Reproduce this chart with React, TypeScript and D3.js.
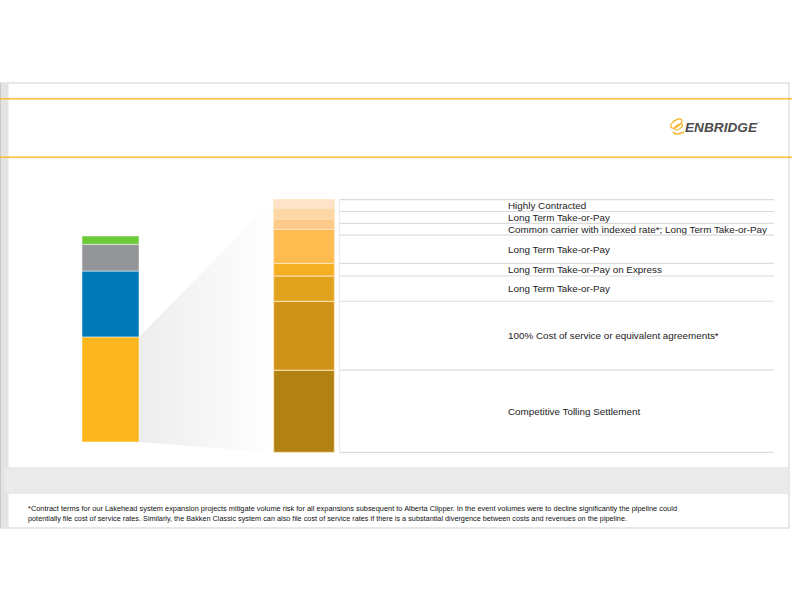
import React from "react";
import * as d3 from "d3";

// Left stacked bar (bottom to top), percent of total
const totalSegments = ["Liquids", "Gas", "Other", "Renewables"];
const totalValues = [51, 32, 13, 4];
const totalColors = ["#FDB71E", "#007AB8", "#939598", "#6CCB39"];

// Right breakdown bar (bottom to top), percent of liquids
const breakdownLabels = [
  "Competitive Tolling Settlement",
  "100% Cost of service or equivalent agreements*",
  "Long Term Take-or-Pay",
  "Long Term Take-or-Pay on Express",
  "Long Term Take-or-Pay",
  "Common carrier with indexed rate*; Long Term Take-or-Pay",
  "Long Term Take-or-Pay",
  "Highly Contracted",
];
const breakdownValues = [32.5, 27.3, 10, 5, 13.5, 4.1, 4.2, 3.4];
const breakdownColors = [
  "#B38012",
  "#CE9318",
  "#E0A11C",
  "#F5AF22",
  "#FDBB50",
  "#FFC98A",
  "#FFD7A4",
  "#FFE3C9",
];

const footnoteLines = [
  "*Contract terms for our Lakehead system expansion projects mitigate volume risk for all expansions subsequent to Alberta Clipper. In the event volumes were to decline significantly the pipeline could",
  "potentially file cost of service rates. Similarly, the Bakken Classic system can also file cost of service rates if there is a substantial divergence between costs and revenues on the pipeline.",
];

function stack(values: number[]) {
  let acc = 0;
  return values.map((v) => {
    const s = { y0: acc, y1: acc + v };
    acc += v;
    return s;
  });
}

export default function App() {
  const W = 792,
    H = 612;
  const font = "'Liberation Sans', Arial, sans-serif";

  const yL = d3.scaleLinear().domain([0, 100]).range([442, 236]);
  const yR = d3.scaleLinear().domain([0, 100]).range([452.3, 199.7]);
  const xL = { x0: 82, x1: 139 };
  const xR = { x0: 273.7, x1: 334.3 };

  const lStack = stack(totalValues);
  const rStack = stack(breakdownValues);

  // label rows, computed from top down with a minimum row height
  const minH = 11.8;
  const rowsTopDown: { top: number; bottom: number; label: string }[] = [];
  let prevBottom = -Infinity;
  for (let i = rStack.length - 1; i >= 0; i--) {
    const segTop = yR(rStack[i].y1);
    const segBottom = yR(rStack[i].y0);
    const top = Math.max(prevBottom, segTop);
    const bottom = Math.max(segBottom, top + minH);
    rowsTopDown.push({ top, bottom, label: breakdownLabels[i] });
    prevBottom = bottom;
  }

  const liquidsTop = yL(lStack[0].y1);
  const liquidsBottom = yL(lStack[0].y0);
  const connector = [
    [xL.x1, liquidsTop],
    [xR.x0, yR(100)],
    [xR.x0, yR(0)],
    [xL.x1, liquidsBottom],
  ];
  const line = d3.line();

  return (
    <svg
      width={W}
      height={H}
      style={{ position: "absolute", left: 0, top: 0, background: "#fff" }}
      fontFamily={font}
    >
      <defs>
        <linearGradient id="conn" x1="0" x2="1" y1="0" y2="0">
          <stop offset="0" stopColor="#EDEDED" />
          <stop offset="1" stopColor="#FFFFFF" />
        </linearGradient>
      </defs>
      {/* slide frame */}
      <rect x={0} y={83} width={789} height={445} fill="#fff" stroke="#CFCFCF" strokeWidth={1} />
      <rect x={0.5} y={83.5} width={8} height={444} fill="#E4E4E4" />
      <line x1={0.5} x2={0.5} y1={83} y2={528} stroke="#C8C8C8" />
      <rect x={5} y={467} width={784} height={27} fill="#E9EAE9" />
      <line x1={0} x2={792} y1={98.8} y2={98.8} stroke="#FDBB30" strokeWidth={1.5} />
      <line x1={0} x2={792} y1={157.3} y2={157.3} stroke="#FDBB30" strokeWidth={1.5} />

      {/* logo */}
      <g transform="translate(678,126)">
        <ellipse cx={0} cy={-3} rx={6.5} ry={3.2} fill="none" stroke="#F7B52A" strokeWidth={1.4} transform="rotate(-35)" />
        <ellipse cx={0} cy={1} rx={4.5} ry={2.2} fill="none" stroke="#F7B52A" strokeWidth={1.2} transform="rotate(-35)" />
        <path d="M -5 6 Q -2 10 6 6" fill="none" stroke="#F7B52A" strokeWidth={1.6} />
      </g>
      <text
        x={685}
        y={131.5}
        fontSize={13}
        fontWeight="bold"
        fontStyle="italic"
        fill="#4D4D4F"
        textLength={72}
        lengthAdjust="spacingAndGlyphs"
      >
        ENBRIDGE
      </text>
      <text x={757} y={124} fontSize={3} fill="#777">™</text>

      {/* connector shading */}
      <path d={line(connector as [number, number][]) + "Z"} fill="url(#conn)" />

      {/* left stacked bar */}
      {lStack.map((s, i) => (
        <rect
          key={"l" + i}
          x={xL.x0}
          width={xL.x1 - xL.x0}
          y={yL(s.y1)}
          height={yL(s.y0) - yL(s.y1)}
          fill={totalColors[i]}
          stroke="#FFFFFF"
          strokeOpacity={0.6}
          strokeWidth={0.8}
        >
          <title>{totalSegments[i]}</title>
        </rect>
      ))}

      {/* label rows */}
      <line x1={339.5} x2={339.5} y1={rowsTopDown[0].top} y2={rowsTopDown[rowsTopDown.length - 1].bottom} stroke="#E4F0F0" />
      {rowsTopDown.map((r, i) => (
        <g key={"r" + i}>
          <line x1={339.5} x2={774} y1={r.top} y2={r.top} stroke="#DCDCDC" strokeWidth={1.2} />
          <text x={508} y={(r.top + r.bottom) / 2} dy="0.35em" fontSize={9.85} fill="#222">
            {r.label}
          </text>
        </g>
      ))}
      <line
        x1={339.5}
        x2={774}
        y1={rowsTopDown[rowsTopDown.length - 1].bottom}
        y2={rowsTopDown[rowsTopDown.length - 1].bottom}
        stroke="#DCDCDC"
        strokeWidth={1.2}
      />

      {/* right breakdown bar */}
      {rStack.map((s, i) => (
        <rect
          key={"r" + i}
          x={xR.x0}
          width={xR.x1 - xR.x0}
          y={yR(s.y1)}
          height={yR(s.y0) - yR(s.y1)}
          fill={breakdownColors[i]}
          stroke="#FCE6BE"
          strokeWidth={0.9}
        />
      ))}

      {/* footnote */}
      {footnoteLines.map((t, i) => (
        <text
          key={"f" + i}
          x={28}
          y={511 + i * 10}
          fontSize={7}
          fill="#111"
          textLength={i === 0 ? 649 : 599}
          lengthAdjust="spacingAndGlyphs"
        >
          {t}
        </text>
      ))}
    </svg>
  );
}
